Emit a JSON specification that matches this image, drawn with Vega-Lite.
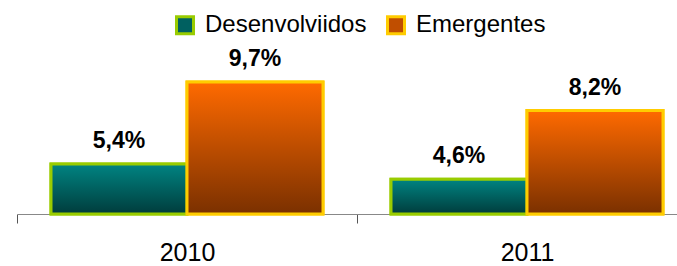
{
  "$schema": "https://vega.github.io/schema/vega-lite/v6.json",
  "width": 660,
  "height": 214,
  "autosize": {"type": "none"},
  "padding": {"left": 17, "top": 0, "right": 0, "bottom": 52},
  "background": "white",
  "config": {"view": {"stroke": null}, "font": "Liberation Sans"},
  "data": {
    "values": [
      {"ano": "2010", "grupo": "Desenvolviidos", "valor": 5.4, "rotulo": "5,4%"},
      {"ano": "2010", "grupo": "Emergentes", "valor": 9.7, "rotulo": "9,7%"},
      {"ano": "2011", "grupo": "Desenvolviidos", "valor": 4.6, "rotulo": "4,6%"},
      {"ano": "2011", "grupo": "Emergentes", "valor": 8.2, "rotulo": "8,2%"}
    ]
  },
  "encoding": {
    "x": {
      "field": "ano", "type": "nominal", "title": null,
      "scale": {"range": [0, 680], "paddingInner": 0, "paddingOuter": 0},
      "axis": {
        "labelAngle": 0, "labelFontSize": 25, "labelColor": "#000", "labelPadding": 17,
        "tickBand": "extent", "tickSize": 9, "tickColor": "#555", "domainColor": "#888",
        "labelFont": "Liberation Sans"
      }
    },
    "xOffset": {"field": "grupo", "type": "nominal", "scale": {"domain": ["Desenvolviidos", "Emergentes"], "paddingInner": 0, "paddingOuter": 0.25}},
    "y": {
      "field": "valor", "type": "quantitative", "title": null,
      "scale": {"domain": [2.78, 14.0], "zero": false, "nice": false},
      "axis": null
    },
    "y2": {"datum": 2.78}
  },
  "layer": [
    {
      "mark": {"type": "bar", "strokeWidth": 3},
      "encoding": {
        "color": {
          "field": "grupo", "type": "nominal",
          "scale": {"domain": ["Desenvolviidos", "Emergentes"], "range": ["#006060", "#C04E00"]},
          "legend": {
            "orient": "none", "legendX": 156, "legendY": 13, "direction": "horizontal",
            "title": null, "symbolType": "square", "symbolSize": 289, "symbolStrokeWidth": 3,
            "symbolOpacity": 1, "labelLimit": 0,
            "labelFontSize": 24, "labelFont": "Liberation Sans", "labelColor": "#000",
            "columnPadding": 14, "labelOffset": 8,
            "encode": {
              "symbols": {
                "update": {
                  "fill": {"signal": "datum.value === 'Emergentes' ? {gradient: 'linear', x1: 0, y1: 0, x2: 0, y2: 1, stops: [{offset: 0, color: '#FF6A00'}, {offset: 1, color: '#7A3000'}]} : {gradient: 'linear', x1: 0, y1: 0, x2: 0, y2: 1, stops: [{offset: 0, color: '#008482'}, {offset: 1, color: '#003C3C'}]}"},
                  "stroke": {"signal": "datum.value === 'Emergentes' ? '#FFCC00' : '#99CC00'"},
                  "opacity": {"value": 1}
                }
              }
            }
          }
        },
        "stroke": {
          "field": "grupo", "type": "nominal",
          "scale": {"domain": ["Desenvolviidos", "Emergentes"], "range": ["#99CC00", "#FFCC00"]}
        }
      }
    },
    {
      "transform": [{"filter": "datum.grupo === 'Desenvolviidos'"}],
      "mark": {
        "type": "bar", "strokeWidth": 3, "stroke": "#99CC00",
        "fill": {"gradient": "linear", "x1": 0, "y1": 0, "x2": 0, "y2": 1, "stops": [{"offset": 0, "color": "#008482"}, {"offset": 1, "color": "#003C3C"}]}
      }
    },
    {
      "transform": [{"filter": "datum.grupo === 'Emergentes'"}],
      "mark": {
        "type": "bar", "strokeWidth": 3, "stroke": "#FFCC00",
        "fill": {"gradient": "linear", "x1": 0, "y1": 0, "x2": 0, "y2": 1, "stops": [{"offset": 0, "color": "#FF6A00"}, {"offset": 1, "color": "#7A3000"}]}
      }
    },
    {
      "mark": {"type": "text", "baseline": "bottom", "dy": -11, "fontSize": 23, "fontWeight": "bold", "color": "#000", "font": "Liberation Sans"},
      "encoding": {"text": {"field": "rotulo"}, "y2": null}
    }
  ]
}
